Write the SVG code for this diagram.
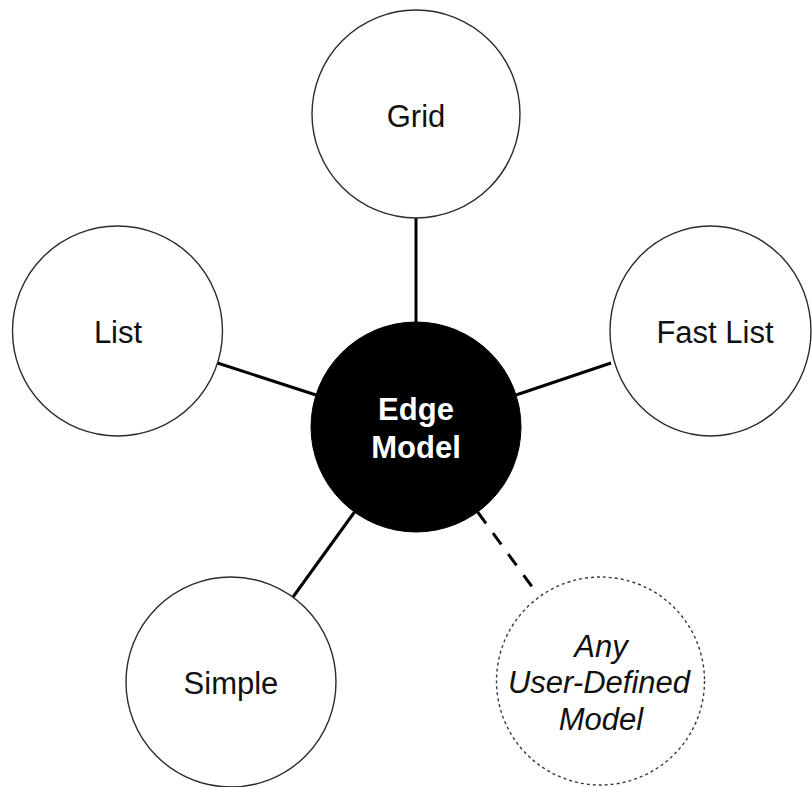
<svg xmlns="http://www.w3.org/2000/svg" width="812" height="787" viewBox="0 0 812 787">
  <style>
    .node { fill: #ffffff; stroke: #2b2b2b; stroke-width: 1.4; }
    .hub { fill: #000000; stroke: #000000; stroke-width: 1; }
    .user { fill: #ffffff; stroke: #3a3a3a; stroke-width: 1.4; stroke-dasharray: 3 3; }
    .link { stroke: #000000; stroke-width: 3; fill: none; }
    .link-opt { stroke: #000000; stroke-width: 3; fill: none; stroke-dasharray: 14 12; }
    .label { font-family: "Liberation Sans", Arial, Helvetica, sans-serif; font-size: 31px; fill: #111111; text-anchor: middle; }
    .hub-label { font-weight: bold; fill: #ffffff; }
    .italic { font-style: italic; }
  </style>
  <rect width="812" height="787" fill="#ffffff"/>

  <!-- connectors from the central Edge Model to each implementation -->
  <g id="connectors">
    <line class="link" x1="416" y1="218" x2="416" y2="323"/>
    <line class="link" x1="217.5" y1="363" x2="316" y2="395"/>
    <line class="link" x1="611" y1="363" x2="516" y2="395"/>
    <line class="link" x1="293" y1="597" x2="354.5" y2="512"/>
    <line class="link-opt" x1="477.7" y1="512" x2="538" y2="595"/>
  </g>

  <g id="node-grid">
    <circle class="node" cx="416" cy="114" r="104"/>
    <text class="label" x="416" y="127">Grid</text>
  </g>

  <g id="node-list">
    <circle class="node" cx="117.5" cy="331" r="105"/>
    <text class="label" x="118" y="343">List</text>
  </g>

  <g id="node-fast-list">
    <ellipse class="node" cx="710.5" cy="331" rx="100.5" ry="105"/>
    <text class="label" x="715" y="343">Fast List</text>
  </g>

  <g id="node-simple">
    <circle class="node" cx="231" cy="682" r="105"/>
    <text class="label" x="231" y="694">Simple</text>
  </g>

  <g id="node-user-defined">
    <circle class="user" cx="600.5" cy="681" r="104"/>
    <text class="label italic" x="601" y="657">Any</text>
    <text class="label italic" x="599" y="693">User-Defined</text>
    <text class="label italic" x="601" y="730">Model</text>
  </g>

  <g id="node-edge-model">
    <circle class="hub" cx="416" cy="427" r="105"/>
    <text class="label hub-label" x="416" y="420">Edge</text>
    <text class="label hub-label" x="416" y="458">Model</text>
  </g>
</svg>
